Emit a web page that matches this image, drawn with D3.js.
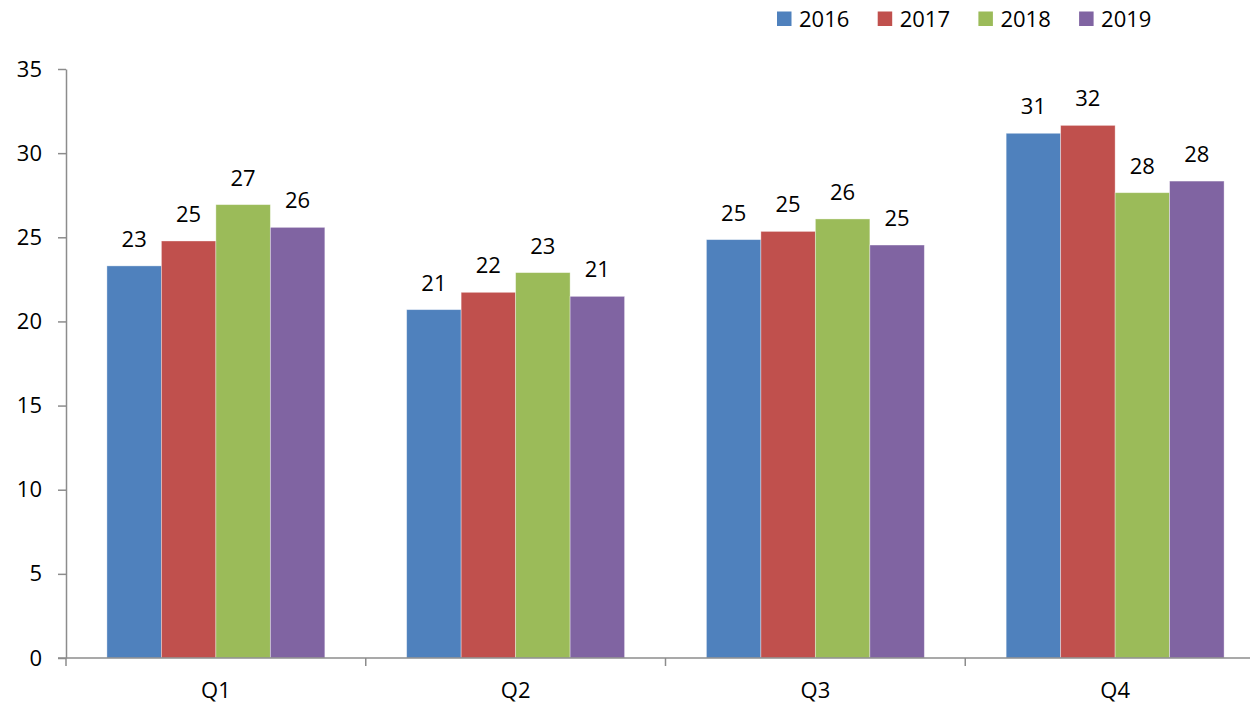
<!DOCTYPE html>
<html>
<head>
<meta charset="utf-8">
<script src="https://cdn.jsdelivr.net/npm/d3@7"></script>
<style>
  body { margin: 0; background: #fff; }
  svg text { font-family: "Open Sans", sans-serif; fill: #000; }
</style>
</head>
<body>
<div id="chart"></div>
<script>
var quarters = ["Q1", "Q2", "Q3", "Q4"];
var years = ["2016", "2017", "2018", "2019"];
var values2016 = [23.3, 20.7, 24.86, 31.18];
var values2017 = [24.78, 21.73, 25.35, 31.65];
var values2018 = [26.94, 22.9, 26.09, 27.65];
var values2019 = [25.59, 21.49, 24.54, 28.34];
var yTicks = [0, 5, 10, 15, 20, 25, 30, 35];
var colors = ["#4F81BD", "#C0504D", "#9BBB59", "#8064A2"];

var series = [values2016, values2017, values2018, values2019];

function drawChart(){
    var width = 1250;
    var height = 705;
    var left = 66;
    var top = 69;
    var bottom = 658;
    var bandW = 299.75;
    var axisColor = "#8c8c8c";

    var svg = d3.select("#chart").append("svg")
                .attr("width", width)
                .attr("height", height);

    var x0 = d3.scaleBand().domain(quarters)
                .range([left, left + bandW * quarters.length])
                .paddingInner(0.273).paddingOuter(0.1365);
    var x1 = d3.scaleBand().domain(years).range([0, x0.bandwidth()]);
    var y = d3.scaleLinear().domain([0, 35]).range([bottom, top]);

    // bars
    var groups = svg.selectAll(".grp").data(quarters).enter().append("g")
                .attr("transform", function(d){ return "translate(" + x0(d) + ",0)"; });
    groups.selectAll("rect")
        .data(function(d, i){ return years.map(function(yr, j){ return {year: yr, v: series[j][i], c: colors[j]}; }); })
        .enter().append("rect")
        .attr("x", function(d){ return x1(d.year); })
        .attr("y", function(d){ return y(d.v); })
        .attr("width", x1.bandwidth())
        .attr("height", function(d){ return y(0) - y(d.v); })
        .attr("fill", function(d){ return d.c; })
        .attr("stroke", "rgba(255,255,255,0.45)")
        .attr("stroke-width", 0.8);

    // value labels
    groups.selectAll("text.val")
        .data(function(d, i){ return years.map(function(yr, j){ return {year: yr, v: series[j][i]}; }); })
        .enter().append("text")
        .attr("class", "val")
        .attr("x", function(d){ return x1(d.year) + x1.bandwidth() / 2; })
        .attr("y", function(d){ return y(d.v) - 19; })
        .attr("text-anchor", "middle")
        .style("font-size", "22px")
        .text(function(d){ return Math.round(d.v); });

    // y axis
    var yAxis = d3.axisLeft(y).tickValues(yTicks).tickSize(8).tickPadding(16).tickSizeOuter(0);
    var yg = svg.append("g").attr("transform", "translate(" + left + ",0)").call(yAxis);
    yg.select(".domain").attr("stroke", axisColor).attr("stroke-width", 1.5);
    yg.selectAll(".tick line").attr("stroke", axisColor).attr("stroke-width", 1.5);
    yg.selectAll(".tick text").style("font-size", "22px").attr("fill", "#000")
      .style("font-family", "'Open Sans', sans-serif");

    // x axis
    var xg = svg.append("g").attr("transform", "translate(0," + bottom + ")");
    xg.append("line").attr("x1", left - 8).attr("x2", left + bandW * quarters.length)
        .attr("stroke", axisColor).attr("stroke-width", 1.5);
    var edges = d3.range(quarters.length + 1).map(function(i){ return left + bandW * i; });
    xg.selectAll(".xt").data(edges).enter().append("line")
        .attr("x1", function(d){ return d; }).attr("x2", function(d){ return d; })
        .attr("y1", 0).attr("y2", 8)
        .attr("stroke", axisColor).attr("stroke-width", 1.5);
    xg.selectAll(".xl").data(quarters).enter().append("text")
        .attr("x", function(d){ return x0(d) + x0.bandwidth() / 2; })
        .attr("y", 40)
        .attr("text-anchor", "middle")
        .style("font-size", "22px")
        .text(function(d){ return d; });

    // legend
    var legend = svg.append("g").attr("transform", "translate(777,0)");
    var item = legend.selectAll(".lg").data(years).enter().append("g")
        .attr("transform", function(d, i){ return "translate(" + (i * 100.7) + ",0)"; });
    item.append("rect").attr("x", 0).attr("y", 11.5).attr("width", 14.5).attr("height", 14.5)
        .attr("fill", function(d, i){ return colors[i]; });
    item.append("text").attr("x", 22).attr("y", 27)
        .style("font-size", "22px")
        .text(function(d){ return d; });
}
drawChart();
</script>
</body>
</html>
